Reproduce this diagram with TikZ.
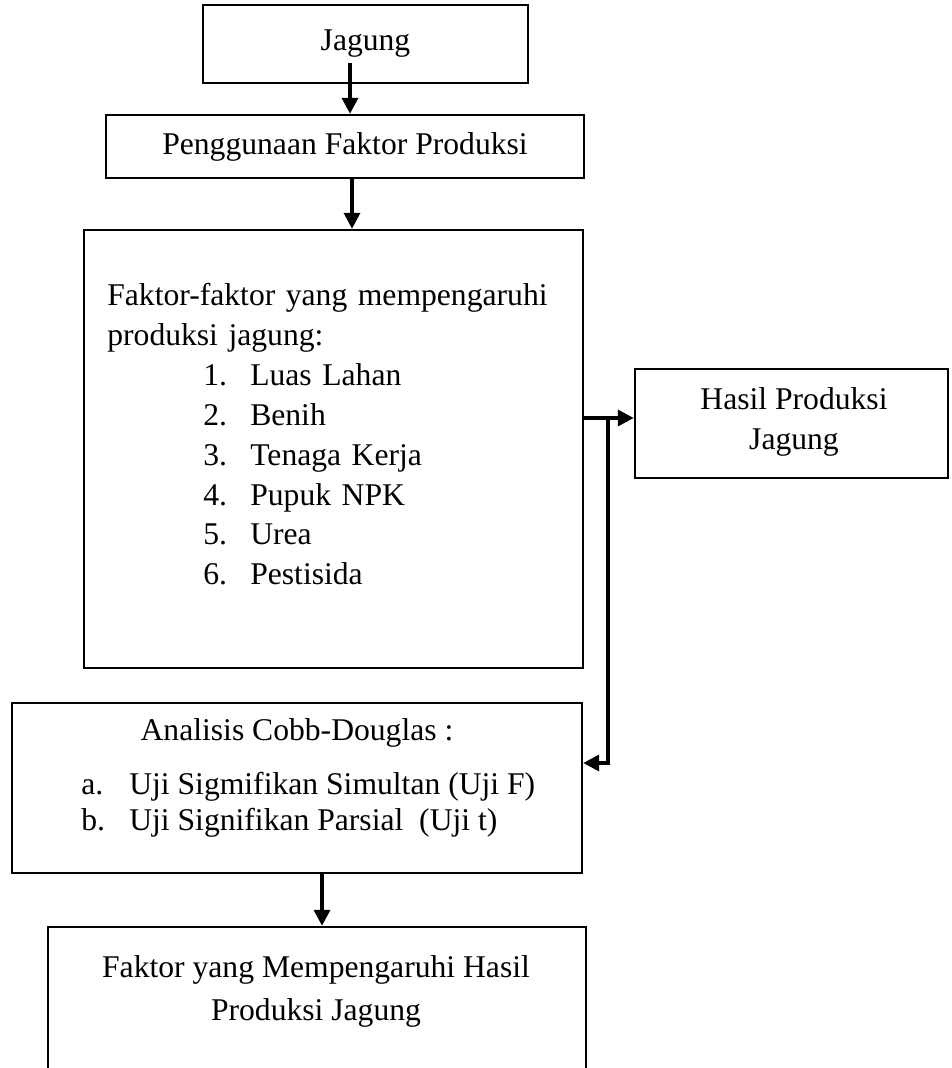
\documentclass[tikz,border=0pt]{standalone}
\usepackage{fontspec}
\setmainfont{Liberation Serif}
\usetikzlibrary{arrows.meta,fit,calc}

\begin{document}
\begin{tikzpicture}[x=0.02cm, y=-0.02cm,
  kotak/.style={draw, line width=1.4pt, inner sep=0pt},
  teks/.style={font=\fontsize{18}{22.7}\selectfont, inner sep=0pt},
  panah/.style={line width=2pt, -{Triangle[length=9pt, width=9pt]}}]

\useasboundingbox (0,0) rectangle (951,1068);

% kotak
\node[kotak, fit={(203,5) (528,83)}] (jagung) {};
\node[kotak, fit={(106,115) (584,178)}] (faktor) {};
\node[kotak, fit={(84,230) (583,668)}] (variabel) {};
\node[kotak, fit={(635,369) (948,478)}] (hasil) {};
\node[kotak, fit={(12,703) (582,873)}] (analisis) {};
\node[kotak, fit={(48,927) (586,1120)}] (kesimpulan) {};

% isi kotak
\node[teks] (jagungtxt) at (jagung) {Jagung};
\node[teks] (faktortxt) at (faktor) {Penggunaan Faktor Produksi};

\node[teks, anchor=north west, text width=9.06cm, align=left] (daftar) at (107,283)
{\makebox[9.06cm][s]{Faktor-faktor yang mempengaruhi}\\
produksi jagung:\\
\hspace*{1.92cm}\makebox[0.94cm][l]{1.}Luas Lahan\\
\hspace*{1.92cm}\makebox[0.94cm][l]{2.}Benih\\
\hspace*{1.92cm}\makebox[0.94cm][l]{3.}Tenaga Kerja\\
\hspace*{1.92cm}\makebox[0.94cm][l]{4.}Pupuk NPK\\
\hspace*{1.92cm}\makebox[0.94cm][l]{5.}Urea\\
\hspace*{1.92cm}\makebox[0.94cm][l]{6.}Pestisida};

\node[teks, align=center] (hasiltxt) at (794,422) {Hasil Produksi\\Jagung};

\node[teks] (judul) at (297,733) {Analisis Cobb-Douglas :};
\node[teks, font=\fontsize{18}{20.4}\selectfont, anchor=north west, align=left] (uji) at (81,772)
{\makebox[0.96cm][l]{a.}Uji Sigmifikan Simultan (Uji F)\\
\makebox[0.96cm][l]{b.}Uji Signifikan Parsial\ \ (Uji t)};

\node[teks, font=\fontsize{18}{24.4}\selectfont, align=center] (akhir) at (316,991)
{Faktor yang Mempengaruhi Hasil\\Produksi Jagung};

% panah
\coordinate (mulai) at (350,63);
\draw[panah] (mulai) -- (mulai |- faktor.north);
\draw[panah] ([xshift=0.14cm]faktor.south) -- ([xshift=0.14cm]faktor.south |- variabel.north);

\coordinate (cabang) at (608,418);
\coordinate (belok) at (608,763);
\draw[panah] (variabel.east |- cabang) -- (hasil.west |- cabang);
\draw[panah] (cabang) -- (belok) -- (analisis.east |- belok);

\draw[panah] ([xshift=0.5cm]analisis.south) -- ([xshift=0.5cm]analisis.south |- kesimpulan.north);

\end{tikzpicture}
\end{document}
